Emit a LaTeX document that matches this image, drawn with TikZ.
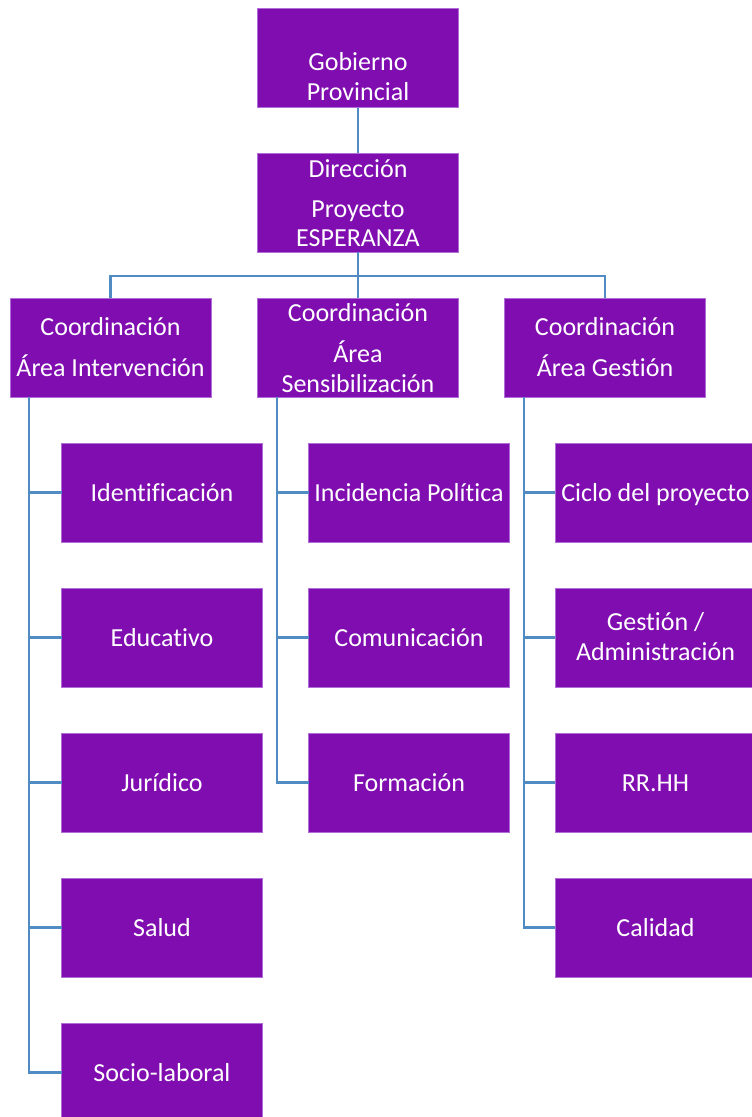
\documentclass[tikz,border=0pt]{standalone}
\usepackage{fontspec}
\setmainfont[RawFeature={-liga;-clig;-dlig}]{Carlito}
\definecolor{boxfill}{RGB}{128,13,176}
\definecolor{boxline}{RGB}{175,110,215}
\definecolor{conncol}{RGB}{80,140,195}
\tikzset{
  box/.style={rectangle, fill=boxfill, draw=boxline, line width=0.8pt,
    minimum width=201pt, minimum height=99pt, inner sep=0pt, outer sep=0pt,
    text=white, font=\fontsize{26}{30}\selectfont, text height=18pt, text depth=0pt},
  txt/.style={anchor=base, text=white, inner sep=0pt, font=\fontsize{26}{30}\selectfont},
  conn/.style={draw=conncol, line width=2.6pt},
}
\begin{document}
\begin{tikzpicture}[x=1pt,y=-1pt]
\useasboundingbox (0,0) rectangle (752,1117);
\clip (0,0) rectangle (752,1117);
% top levels
\node[box] (gob) at (358,58) {};
\node[txt] (gob1) at (358,70) {Gobierno};
\node[txt] (gob2) at (358,100) {Provincial};
\node[box] (dir) at (358,202.5) {};
\node[txt] (dir1) at (358,177) {Dirección};
\node[txt] (dir2) at (358,217) {Proyecto};
\node[txt] (dir3) at (358,246) {ESPERANZA};
% coordination boxes
\node[box] (cl) at (110.5,347.5) {};
\node[txt] (cl1) at (110.5,335) {Coordinación};
\node[txt] (cl2) at (110.5,376) {Área Intervención};
\node[box] (cm) at (358,347.5) {};
\node[txt] (cm1) at (358,321) {Coordinación};
\node[txt] (cm2) at (358,362) {Área};
\node[txt] (cm3) at (358,392) {Sensibilización};
\node[box] (cr) at (605,347.5) {};
\node[txt] (cr1) at (605,335) {Coordinación};
\node[txt] (cr2) at (605,376) {Área Gestión};
% left column
\node[box] (l1) at (162,492.5) {Identificación};
\node[box] (l2) at (162,637.5) {Educativo};
\node[box] (l3) at (162,782.5) {Jurídico};
\node[box] (l4) at (162,927.5) {Salud};
\node[box] (l5) at (162,1072.5) {Socio-laboral};
% middle column
\node[box] (m1) at (409,492.5) {Incidencia Política};
\node[box] (m2) at (409,637.5) {Comunicación};
\node[box] (m3) at (409,782.5) {Formación};
% right column
\node[box] (r1) at (655.5,492.5) {Ciclo del proyecto};
\node[box] (r2) at (655.5,637.5) {};
\node[txt] (r2a) at (655.5,630) {Gestión /};
\node[txt] (r2b) at (655.5,660) {Administración};
\node[box] (r3) at (655.5,782.5) {RR.HH};
\node[box] (r4) at (655.5,927.5) {Calidad};
% connectors top
\draw[conn] (gob.south) -- (dir.north);
\coordinate (bus) at (358,276);
\draw[conn] (dir.south) -- (bus);
\draw[conn] (cl.north) |- (bus) -| (cr.north);
\draw[conn] (bus) -- (cm.north);
% vertical rails
\coordinate (vl) at (29,397);
\coordinate (vm) at (277,397);
\coordinate (vr) at (524,397);
\draw[conn] (vl) |- (l5.west);
\draw[conn] (vm) |- (m3.west);
\draw[conn] (vr) |- (r4.west);
\foreach \n in {l1,l2,l3,l4} \draw[conn] (\n.west) -- (\n.west -| vl);
\foreach \n in {m1,m2} \draw[conn] (\n.west) -- (\n.west -| vm);
\foreach \n in {r1,r2,r3} \draw[conn] (\n.west) -- (\n.west -| vr);
\end{tikzpicture}
\end{document}
